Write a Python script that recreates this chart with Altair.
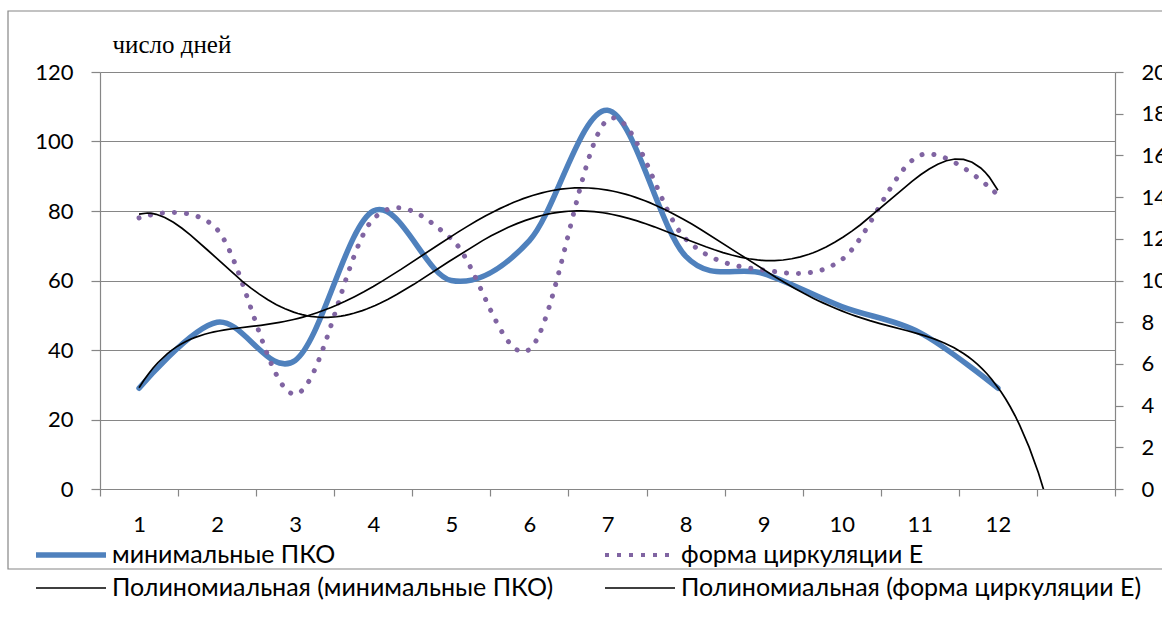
import altair as alt
import pandas as pd

# Months and the two observed series
months = [1, 2, 3, 4, 5, 6, 7, 8, 9, 10, 11, 12]
pko_days = [29, 48, 37, 80, 60, 71.5, 109, 67, 62, 52.5, 45, 29]
circ_e_days = [13.0, 12.45, 4.55, 12.95, 12.0, 6.7, 17.7, 12.0, 10.5, 11.0, 16.0, 14.1]

left_ticks = [0, 20, 40, 60, 80, 100, 120]
right_ticks = [0, 2, 4, 6, 8, 10, 12, 14, 16, 18, 20]

S_PKO = "минимальные ПКО"
S_E = "форма циркуляции E"
S_PKO_T = "Полиномиальная (минимальные ПКО)"
S_E_T = "Полиномиальная (форма циркуляции E)"
# legend fills column by column: first column ПКО, second column form E
series_names = [S_PKO, S_PKO_T, S_E, S_E_T]

BLUE = "#4F81BD"
PURPLE = "#8064A2"
GRID = "#868686"
SANS = "Lato"

df = pd.DataFrame({"x": months, "pko": pko_days, "e": circ_e_days})
legend_df = pd.DataFrame({"series": series_names, "x": [1] * 4, "pko": [0] * 4})
frame_df = pd.DataFrame({"k": [0]})

# category axis: ticks on the boundaries between months, labels centred in each slot
n_slots = len(months) + 1
plot_w, plot_h = 1015, 417
slot_px = plot_w / n_slots
bounds = [m - 0.5 for m in months] + [months[-1] + 0.5, months[-1] + 1.5]

x_scale = alt.Scale(domain=[0.5, n_slots + 0.5], nice=False, zero=False)
x_axis = alt.Axis(
    values=bounds,
    labelExpr="datum.value < 12 ? format(datum.value + 0.5, 'd') : ''",
    labelOffset=slot_px / 2,
    labelFlush=False,
    labelOverlap=False,
    labelBound=False,
    grid=False,
    tickSize=7,
    labelPadding=18,
    title=None,
)
X = alt.X("x:Q", scale=x_scale, axis=x_axis)

y_left = alt.Scale(domain=[0, 120], nice=False)
y_right = alt.Scale(domain=[0, 20], nice=False)

base = alt.Chart(df)

pko_line = base.mark_line(
    color=BLUE, strokeWidth=5.5, interpolate="cardinal", strokeCap="round", strokeJoin="round"
).encode(
    x=X,
    y=alt.Y(
        "pko:Q",
        scale=y_left,
        axis=alt.Axis(
            values=left_ticks,
            orient="left",
            grid=True,
            tickSize=9,
            labelPadding=18,
            title="число дней",
            titleAngle=0,
            titleX=12,
            titleY=-20,
            titleAlign="left",
            titleBaseline="alphabetic",
            titleFont="Liberation Serif",
            titleFontSize=25,
            titleFontWeight="normal",
            titleColor="black",
        ),
    ),
)

e_line = base.mark_line(
    color=PURPLE,
    strokeWidth=5,
    interpolate="cardinal",
    strokeDash=[0.1, 11.9],
    strokeCap="round",
).encode(
    x=X,
    y=alt.Y(
        "e:Q",
        scale=y_right,
        axis=alt.Axis(
            values=right_ticks, orient="right", grid=False, tickSize=8, labelPadding=18, title=None
        ),
    ),
)

pko_trend = (
    base.transform_regression("x", "pko", method="poly", order=6, extent=[1, 13])
    .mark_line(color="black", strokeWidth=1.7, clip=True)
    .encode(x=X, y=alt.Y("pko:Q", scale=y_left, axis=None))
)

e_trend = (
    base.transform_regression("x", "e", method="poly", order=6, extent=[1, 12])
    .mark_line(color="black", strokeWidth=1.7, clip=True)
    .encode(x=X, y=alt.Y("e:Q", scale=y_right, axis=None))
)

# legend carrier: no marks drawn, only the legend built from the series scale
legend_layer = (
    alt.Chart(legend_df)
    .transform_filter("false")
    .mark_line()
    .encode(
        x=X,
        y=alt.Y("pko:Q", scale=y_left, axis=None),
        color=alt.Color(
            "series:N",
            scale=alt.Scale(domain=series_names, range=[BLUE, "black", PURPLE, "black"]),
            legend=alt.Legend(
                title=None,
                orient="none",
                legendX=-67,
                legendY=470,
                columns=2,
                columnPadding=48,
                rowPadding=7,
                symbolType="stroke",
                symbolSize=4900,
                clipHeight=26,
                labelFont=SANS,
                labelFontSize=25,
                labelColor="black",
                labelOffset=3,
                labelLimit=700,
                padding=0,
                symbolOffset=0,
            ),
        ),
        strokeDash=alt.StrokeDash(
            "series:N",
            scale=alt.Scale(domain=series_names, range=[[1, 0], [1, 0], [4, 8], [1, 0]]),
        ),
        strokeWidth=alt.StrokeWidth(
            "series:N",
            scale=alt.Scale(type="ordinal", domain=series_names, range=[5.5, 1.7, 4, 1.7]),
        ),
    )
)

# outer chart frame
frame = (
    alt.Chart(frame_df)
    .mark_rect(fillOpacity=0, stroke=GRID, strokeWidth=1.2)
    .encode(
        x=alt.value(-92),
        x2=alt.value(plot_w + 70),
        y=alt.value(-61),
        y2=alt.value(plot_h + 80),
    )
)

chart = (
    alt.layer(frame, pko_line, e_line, pko_trend, e_trend, legend_layer)
    .resolve_scale(y="independent")
    .properties(
        width=plot_w,
        height=plot_h,
        autosize=alt.AutoSizeParams(type="none"),
        padding={"left": 100, "top": 72, "right": 47, "bottom": 142},
        background="white",
    )
    .configure_view(strokeWidth=0)
    .configure_axis(
        labelFont=SANS,
        labelFontSize=22,
        labelColor="black",
        domainColor=GRID,
        tickColor=GRID,
        gridColor=GRID,
        domainWidth=1.2,
        tickWidth=1.2,
        gridWidth=1.2,
    )
)

chart.save("out.html", embed_options={"renderer": "svg", "actions": False})
